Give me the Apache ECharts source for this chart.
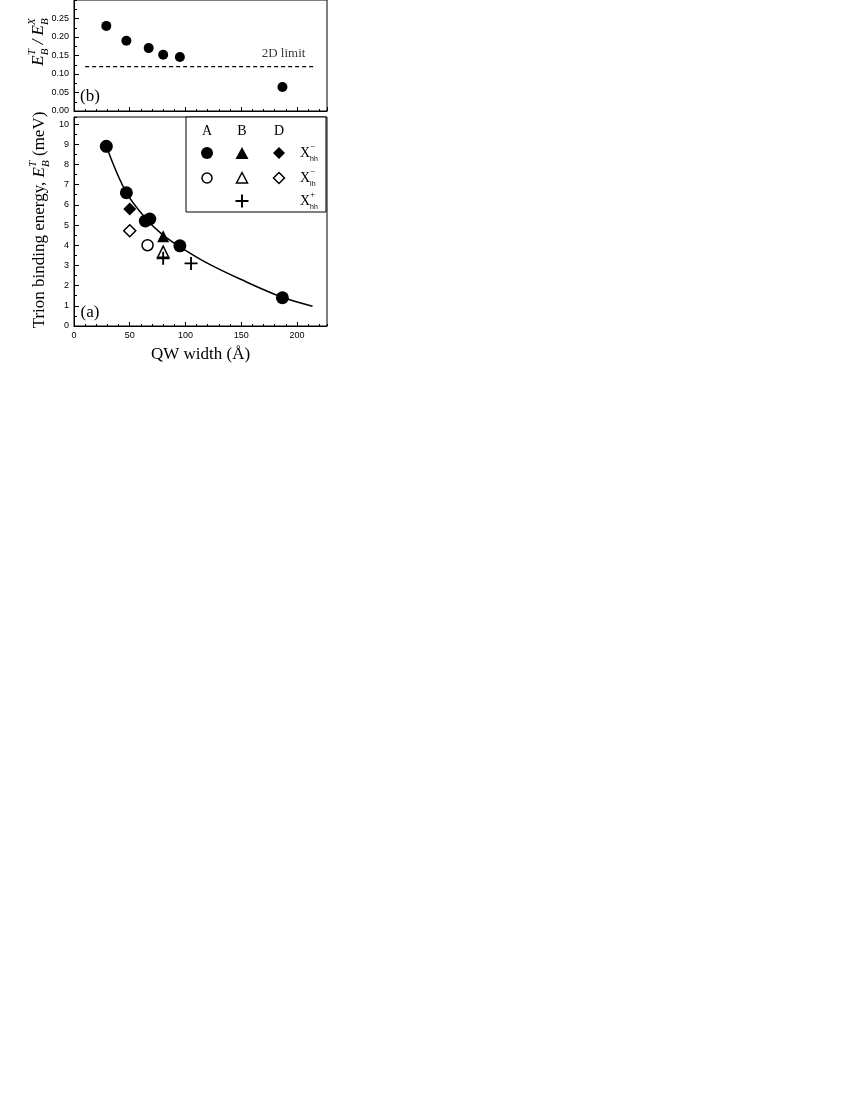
<!DOCTYPE html>
<html><head><meta charset="utf-8">
<script src="https://cdn.jsdelivr.net/npm/echarts@6/dist/echarts.min.js"></script>
<style>html,body{margin:0;padding:0;background:#fff}#c{width:850px;height:1100px}</style>
</head><body><div id="c"></div>
<script>
// ---- data ----
const xMax = 227;
const ratioWidths = [29, 47, 67, 80, 95, 187];
const ratioValues = [0.23, 0.19, 0.17, 0.152, 0.146, 0.065];
const limit2D = 0.12;
const limitRange = [10, 217];
const limitLabelX = 188;

const aHhW = [29, 47, 64, 68, 95, 187];
const aHhE = [8.9, 6.6, 5.2, 5.3, 3.97, 1.4];
const bHhW = [80];  const bHhE = [4.45];
const dHhW = [50];  const dHhE = [5.8];
const aLhW = [66];  const aLhE = [4.0];
const bLhW = [80];  const bLhE = [3.68];
const dLhW = [50];  const dLhE = [4.72];
const bPlusW = [80, 105]; const bPlusE = [3.35, 3.1];
const fitW = [29, 47, 66, 80, 95, 120, 150, 187, 214];
const fitE = [8.9, 6.6, 5.22, 4.5, 3.92, 3.1, 2.3, 1.42, 0.98];

const zip = (a, b) => a.map((v, i) => [v, b[i]]);

// ---- text helpers ----
const SERIF = '"Liberation Serif", "Times New Roman", serif';
const SANS = '"Liberation Sans", Arial, sans-serif';
const mctx = document.createElement('canvas').getContext('2d');
function fontStr(p) { return (p.italic ? 'italic ' : '') + p.size + 'px ' + (p.family || SERIF); }
function tw(p) { mctx.font = fontStr(p); return mctx.measureText(p.t).width; }
function compose(parts, opts) {
  let x = 0; const items = [];
  parts.forEach(p => {
    const w = tw(p); let px;
    if (p.stack) { const prev = items[items.length - 1]; px = prev.x; x = px + Math.max(prev.w, w); }
    else { px = x; x += w; }
    items.push({ p, x: px, w });
  });
  const off = opts.align === 'center' ? -x / 2 : 0;
  return {
    type: 'group', x: opts.x, y: opts.y, rotation: opts.rotation || 0, silent: true,
    children: items.map(it => ({
      type: 'text', x: it.x + off, y: it.p.dy || 0, silent: true,
      style: { text: it.p.t, font: fontStr(it.p), fill: '#000', textAlign: 'left', textVerticalAlign: 'middle', align: 'left', verticalAlign: 'middle' }
    }))
  };
}
function txt(t, x, y, size, family, align) {
  return { type: 'text', x, y, silent: true,
    style: { text: t, font: size + 'px ' + (family || SERIF), fill: '#000', textAlign: align || 'center', textVerticalAlign: 'middle', align: align || 'center', verticalAlign: 'middle' } };
}

// ---- axes ----
const lbl = { fontFamily: SANS, fontSize: 9, color: '#000' };
function xMain(g, show) {
  return { type: 'value', gridIndex: g, position: 'bottom', min: 0, max: xMax, interval: 50,
    axisLine: { show: true, onZero: false, lineStyle: { color: '#000', width: 1 } },
    axisTick: { inside: true, length: 4, lineStyle: { color: '#000' } },
    axisLabel: Object.assign({ show: show, showMaxLabel: false, margin: 5 }, lbl),
    splitLine: { show: false } };
}
function xMinor(g) {
  return { type: 'value', gridIndex: g, position: 'bottom', min: 0, max: xMax, interval: 10,
    axisLine: { show: false, onZero: false }, axisTick: { inside: true, length: 2, lineStyle: { color: '#000' } },
    axisLabel: { show: false }, splitLine: { show: false } };
}
function yMain(g, max, interval, fmt) {
  return { type: 'value', gridIndex: g, position: 'left', min: 0, max: max, interval: interval,
    axisLine: { show: true, onZero: false, lineStyle: { color: '#000', width: 1 } },
    axisTick: { inside: true, length: 5, lineStyle: { color: '#000' } },
    axisLabel: Object.assign({ showMaxLabel: false, margin: 5, formatter: fmt }, lbl),
    splitLine: { show: false } };
}
function yMinor(g, max, interval) {
  return { type: 'value', gridIndex: g, position: 'left', min: 0, max: max, interval: interval,
    axisLine: { show: false, onZero: false }, axisTick: { inside: true, length: 3, lineStyle: { color: '#000' } },
    axisLabel: { show: false }, splitLine: { show: false } };
}

const PLUS = 'path://M6,0H8V6H14V8H8V14H6V8H0V6H6Z';
const filled = { color: '#000', opacity: 1 };
const open = { color: '#fff', borderColor: '#000', borderWidth: 1.5, opacity: 1 };
function sc(name, w, e, symbol, size, style) {
  return { name, type: 'scatter', xAxisIndex: 1, yAxisIndex: 1, data: zip(w, e), symbol, symbolSize: size, itemStyle: style, z: 5 };
}

const graphics = [
  // y titles
  compose([
    { t: 'Trion binding energy, ', size: 17 }, { t: 'E', size: 17, italic: true },
    { t: 'T', size: 11, italic: true, dy: -7 }, { t: 'B', size: 11, italic: true, dy: 6, stack: true },
    { t: ' (meV)', size: 17 }
  ], { x: 40, y: 220, rotation: Math.PI / 2, align: 'center' }),
  compose([
    { t: 'E', size: 17, italic: true }, { t: 'T', size: 11, italic: true, dy: -7 }, { t: 'B', size: 11, italic: true, dy: 6, stack: true },
    { t: ' / ', size: 17, italic: true },
    { t: 'E', size: 17, italic: true }, { t: 'X', size: 11, italic: true, dy: -7 }, { t: 'B', size: 11, italic: true, dy: 6, stack: true }
  ], { x: 39, y: 42, rotation: Math.PI / 2, align: 'center' }),
  // panel labels
  txt('(a)', 90, 313, 17), txt('(b)', 90, 97, 17),
  // legend box
  { type: 'rect', shape: { x: 186, y: 117, width: 140, height: 95 }, style: { fill: '#fff', stroke: '#000', lineWidth: 1 }, z: 10 },
  Object.assign(txt('A', 207, 131, 14), { z: 11 }), Object.assign(txt('B', 242, 131, 14), { z: 11 }), Object.assign(txt('D', 279, 131, 14), { z: 11 }),
  { type: 'circle', shape: { cx: 207, cy: 153, r: 6 }, style: { fill: '#000' }, z: 11 },
  { type: 'polygon', shape: { points: [[242, 147], [248.5, 159], [235.5, 159]] }, style: { fill: '#000' }, z: 11 },
  { type: 'polygon', shape: { points: [[279, 147], [285, 153], [279, 159], [273, 153]] }, style: { fill: '#000' }, z: 11 },
  { type: 'circle', shape: { cx: 207, cy: 178, r: 5 }, style: { fill: '#fff', stroke: '#000', lineWidth: 1.5 }, z: 11 },
  { type: 'polygon', shape: { points: [[242, 172.5], [247.5, 183], [236.5, 183]] }, style: { fill: '#fff', stroke: '#000', lineWidth: 1.5 }, z: 11 },
  { type: 'polygon', shape: { points: [[279, 172.5], [284.5, 178], [279, 183.5], [273.5, 178]] }, style: { fill: '#fff', stroke: '#000', lineWidth: 1.5 }, z: 11 },
  { type: 'rect', shape: { x: 241, y: 194.5, width: 2, height: 13 }, style: { fill: '#000' }, z: 11 },
  { type: 'rect', shape: { x: 235.5, y: 200, width: 13, height: 2 }, style: { fill: '#000' }, z: 11 }
];
[['\u2212', 'hh', 153], ['\u2212', 'lh', 178], ['+', 'hh', 201]].forEach(r => {
  const g = compose([
    { t: 'X', size: 14 }, { t: r[0], size: 9, dy: -6 }, { t: r[1], size: 7, family: SANS, dy: 6, stack: true }
  ], { x: 300, y: r[2] });
  g.z = 11; g.children.forEach(c => c.z = 11);
  graphics.push(g);
});

const option = {
  animation: false,
  backgroundColor: '#fff',
  grid: [
    { left: 74, width: 253, top: -17, height: 128, show: true, borderColor: '#000', borderWidth: 1, containLabel: false },
    { left: 74, width: 253, top: 117, height: 209, show: true, borderColor: '#000', borderWidth: 1, containLabel: false }
  ],
  xAxis: [
    xMain(0, false),
    Object.assign(xMain(1, true), { name: 'QW width (\u00c5)', nameLocation: 'middle', nameGap: 20,
      nameTextStyle: { fontFamily: SERIF, fontSize: 17, color: '#000' } }),
    xMinor(0), xMinor(1)
  ],
  yAxis: [
    yMain(0, 0.30, 0.05, v => v.toFixed(2)),
    yMain(1, 10.35, 1, v => String(v)),
    yMinor(0, 0.30, 0.025), yMinor(1, 10.35, 0.5)
  ],
  graphic: graphics,
  series: [
    { name: 'ratio', type: 'scatter', xAxisIndex: 0, yAxisIndex: 0, data: zip(ratioWidths, ratioValues), symbol: 'circle', symbolSize: 10, itemStyle: filled },
    { name: '2D limit', type: 'line', xAxisIndex: 0, yAxisIndex: 0, data: limitRange.map(x => [x, limit2D]), symbol: 'none',
      lineStyle: { color: '#000', width: 1.2, type: [4, 3] } },
    { name: '2D limit label', type: 'scatter', xAxisIndex: 0, yAxisIndex: 0, data: [[limitLabelX, limit2D]], symbolSize: 1,
      itemStyle: { color: 'rgba(0,0,0,0)' },
      label: { show: true, position: 'top', distance: 6, formatter: '2D limit', fontFamily: SERIF, fontSize: 13, color: '#000' } },
    { name: 'fit', type: 'line', xAxisIndex: 1, yAxisIndex: 1, data: zip(fitW, fitE), symbol: 'none', smooth: 0.35,
      lineStyle: { color: '#000', width: 1.5 }, z: 2 },
    sc('A X-hh', aHhW, aHhE, 'circle', 13, filled),
    sc('B X-hh', bHhW, bHhE, 'triangle', 12, filled),
    sc('D X-hh', dHhW, dHhE, 'diamond', 13, filled),
    sc('A X-lh', aLhW, aLhE, 'circle', 11, open),
    sc('B X-lh', bLhW, bLhE, 'triangle', 11, open),
    sc('D X-lh', dLhW, dLhE, 'diamond', 12, open),
    sc('B X+hh', bPlusW, bPlusE, PLUS, 13, filled)
  ]
};
const chart = echarts.init(document.getElementById('c'), null, { renderer: 'canvas' });
chart.setOption(option);
</script>
</body></html>
